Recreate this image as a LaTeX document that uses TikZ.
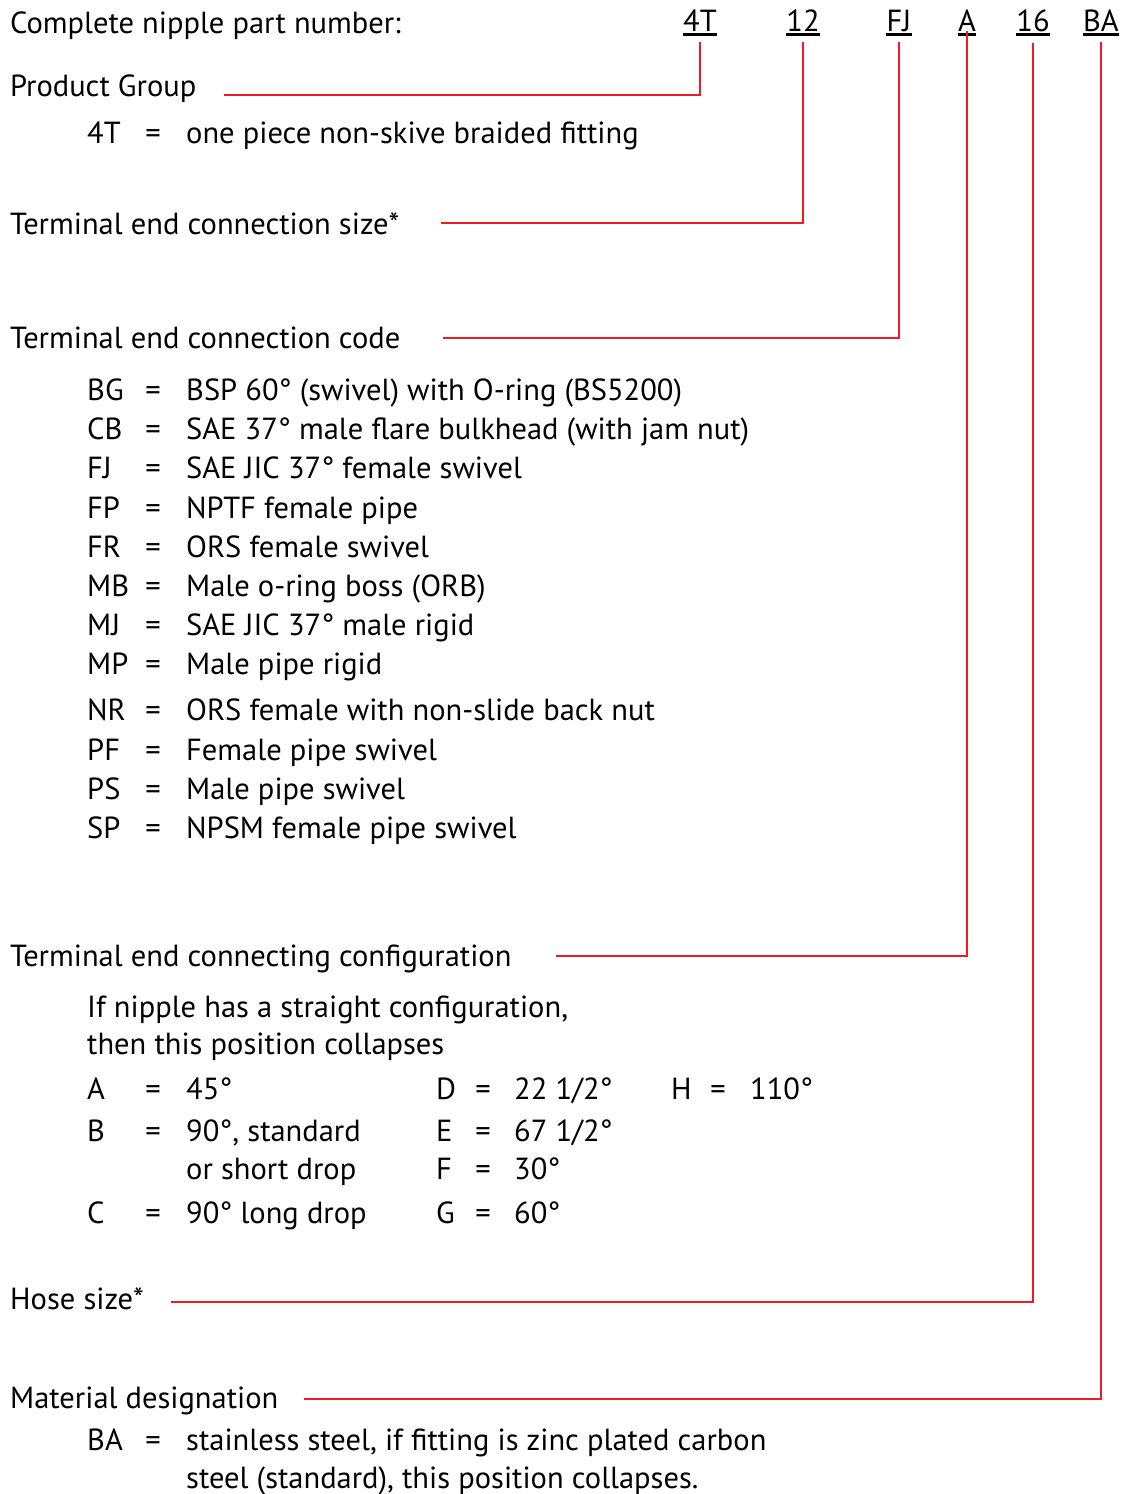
\documentclass[tikz,border=0pt]{standalone}
\usepackage{fontspec}
\setmainfont{PT Sans}
\definecolor{linkred}{RGB}{237,28,36}
\begin{document}
\begin{tikzpicture}[
	x=1pt,
	y=-1pt,
	every node/.style={
		font=\fontsize{30.5}{36}\selectfont
	},
	heading/.style={
		anchor=base west,
		inner sep=0pt
	},
	entry/.style={
		anchor=base west,
		inner sep=0pt
	},
	eqsign/.style={
		anchor=base,
		inner sep=0pt
	},
	partno/.style={
		anchor=base,
		inner sep=0pt
	},
	uline/.style={
		line width=2.4pt
	},
	link/.style={
		draw=linkred,
		line width=2pt
	},
]
\useasboundingbox (0,0) rectangle (1125,1494);

% Part number
\node[heading] (title) at (10, 33) {Complete nipple part number:};
\foreach \n/\x in {4T/700, 12/803, FJ/899, A/967, 16/1033, BA/1101}
	\node[partno] (p\n) at (\x, 31) {\n};
\foreach \n in {4T, 12, FJ, A, 16, BA}
	\draw[uline] ([yshift=-3.5pt]p\n.base west) -- ([yshift=-3.5pt]p\n.base east);

% Product group
\node[heading] (pg) at (10, 96) {Product Group};
\node[entry] (c4T) at (87, 143) {4T};
\node[eqsign] (eq4T) at (153, 143) {=};
\node[entry] (d4T) at (186, 143) {one piece non-skive braided fitting};

% Connection size
\node[heading] (tsize) at (10, 234) {Terminal end connection size*};

% Connection code
\node[heading] (tcode) at (10, 348) {Terminal end connection code};
\foreach \y/\c/\d in {
	400/BG/{BSP 60° (swivel) with O-ring (BS5200)},
	439/CB/{SAE 37° male flare bulkhead (with jam nut)},
	478/FJ/{SAE JIC 37° female swivel},
	518/FP/{NPTF female pipe},
	557/FR/{ORS female swivel},
	596/MB/{Male o-ring boss (ORB)},
	635/MJ/{SAE JIC 37° male rigid},
	674/MP/{Male pipe rigid},
	720/NR/{ORS female with non-slide back nut},
	760/PF/{Female pipe swivel},
	799/PS/{Male pipe swivel},
	838/SP/{NPSM female pipe swivel}}
{
	\node[entry] (c\c) at (87, \y) {\c};
	\node[eqsign] (eq\c) at (153, \y) {=};
	\node[entry] (d\c) at (186, \y) {\d};
}

% Configuration
\node[heading] (tconf) at (10, 966) {Terminal end connecting configuration};
\node[entry] (note1) at (87, 1017) {If nipple has a straight configuration,};
\node[entry] (note2) at (87, 1054) {then this position collapses};
\foreach \y/\c/\d in {1099/A/{45°}, 1141/B/{90°, standard}, 1223/C/{90° long drop}}
{
	\node[entry] (k\c) at (87, \y) {\c};
	\node[eqsign] (eqk\c) at (153, \y) {=};
	\node[entry] (v\c) at (186, \y) {\d};
}
\node[entry] (vB2) at (186, 1179) {or short drop};
\foreach \y/\c/\d in {1099/D/{22 1/2°}, 1141/E/{67 1/2°}, 1179/F/{30°}, 1223/G/{60°}}
{
	\node[entry] (k\c) at (436, \y) {\c};
	\node[eqsign] (eqk\c) at (483, \y) {=};
	\node[entry] (v\c) at (514, \y) {\d};
}
\node[entry] (kH) at (671, 1099) {H};
\node[eqsign] (eqkH) at (718, 1099) {=};
\node[entry] (vH) at (750, 1099) {110°};

% Hose size
\node[heading] (hsize) at (10, 1309) {Hose size*};

% Material
\node[heading] (mat) at (10, 1408) {Material designation};
\node[entry] (cBA) at (87, 1450) {BA};
\node[eqsign] (eqBA) at (153, 1450) {=};
\node[entry] (dBA) at (186, 1450) {stainless steel, if fitting is zinc plated carbon};
\node[entry] (dBA2) at (186, 1488) {steel (standard), this position collapses.};

% Connection part number
\draw[link] ([yshift=-11pt]p4T.base) |- ([xshift=27pt,yshift=1pt]pg.base east);
\draw[link] ([yshift=-11pt]p12.base) |- ([xshift=41pt,yshift=11pt]tsize.base east);
\draw[link] ([yshift=-11pt]pFJ.base) |- ([xshift=42pt,yshift=10pt]tcode.base east);
\draw[link] (pA.base) |- ([xshift=44pt,yshift=10pt]tconf.base east);
\draw[link] ([yshift=-12pt]p16.base) |- ([xshift=27pt,yshift=7pt]hsize.base east);
\draw[link] ([yshift=-11pt]pBA.base) |- ([xshift=25pt,yshift=9pt]mat.base east);

\end{tikzpicture}
\end{document}
